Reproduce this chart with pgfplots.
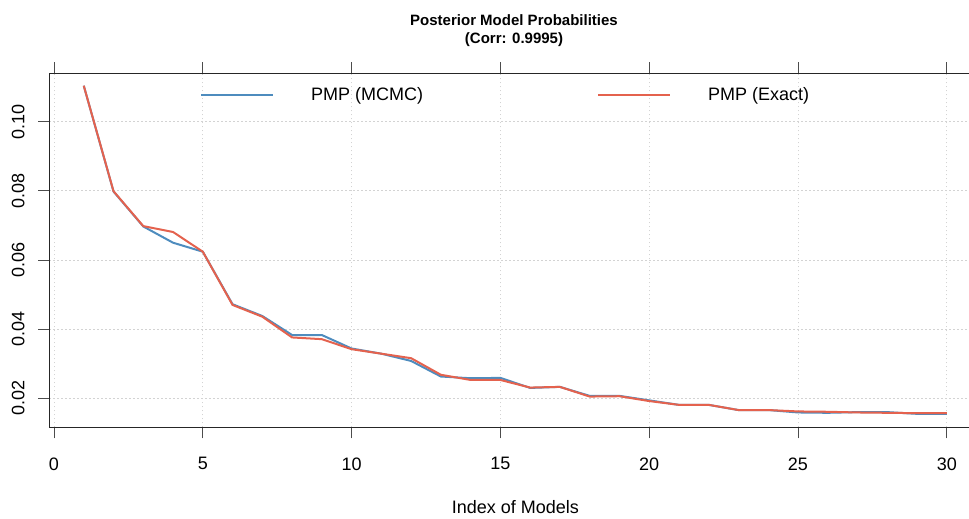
\documentclass[border=0pt]{standalone}
\usepackage{pgfplots}
\pgfplotsset{compat=1.18}
\usepackage{fontspec}
\setmainfont{Liberation Sans}
\definecolor{mcmc}{RGB}{78,140,190}
\definecolor{exact}{RGB}{228,98,78}
\definecolor{gridc}{RGB}{211,211,211}
\begin{document}
\begin{tikzpicture}
\useasboundingbox (0,0) rectangle (969bp,519bp);
\begin{axis}[
  at={(49.3bp,91.7bp)}, anchor=south west,
  scale only axis, width=932bp, height=354bp,
  xmin=-0.158, xmax=31.16, ymin=0.01161, ymax=0.1140,
  xtick={0,5,10,15,20,25,30},
  ytick={0.02,0.04,0.06,0.08,0.10},
  /pgf/number format/assume math mode=true,
  yticklabel style={/pgf/number format/fixed, /pgf/number format/fixed zerofill, /pgf/number format/precision=2, rotate=90, anchor=south, inner sep=0pt},
  scaled y ticks=false,
  xticklabel style={anchor=north, inner sep=0pt},
  yticklabel shift=13.5bp,
  xticklabel shift=19bp,
  tick label style={font=\fontsize{18bp}{20bp}\selectfont},
  tick align=outside,
  major tick length=11bp,
  every tick/.style={black!70, line width=0.9bp},
  axis line style={black!85, line width=1.1bp},
  grid=major,
  major grid style={gridc, line width=0.9bp, dash pattern=on 1.5bp off 2.5bp},
  xlabel={Index of Models},
  xlabel style={at={(axis description cs:0.5,0)}, anchor=center, yshift=-80bp, inner sep=0pt, font=\fontsize{18bp}{20bp}\selectfont},
  legend columns=2,
  legend image code/.code={\draw[#1] (0bp,0bp) -- (72bp,0bp);},
  legend style={draw=none, fill=none, inner sep=0pt, at={(axis description cs:0.1617,0.94)}, anchor=west,
    nodes={inner sep=0pt, anchor=west}, font=\fontsize{18bp}{20bp}\selectfont,
    /tikz/every odd column/.append style={column sep=37bp},
    /tikz/every even column/.append style={column sep=174bp}},
]
\addplot[mcmc, line width=2bp] table {
1 0.1104
2 0.0798
3 0.0697
4 0.0650
5 0.0624
6 0.0472
7 0.0438
8 0.0383
9 0.0383
10 0.0344
11 0.0329
12 0.0308
13 0.0263
14 0.0258
15 0.0259
16 0.0230
17 0.0233
18 0.0207
19 0.0207
20 0.0194
21 0.0181
22 0.0181
23 0.0166
24 0.0166
25 0.0159
26 0.0158
27 0.0160
28 0.0160
29 0.0155
30 0.0155
};
\addlegendentry{PMP (MCMC)}
\addplot[exact, line width=2bp] table {
1 0.1104
2 0.0799
3 0.0698
4 0.0681
5 0.0624
6 0.0470
7 0.0436
8 0.0376
9 0.0371
10 0.0342
11 0.0329
12 0.0316
13 0.0268
14 0.0253
15 0.0253
16 0.0231
17 0.0233
18 0.0205
19 0.0206
20 0.0192
21 0.0181
22 0.0181
23 0.0166
24 0.0166
25 0.0162
26 0.0161
27 0.0159
28 0.0158
29 0.0157
30 0.0157
};
\addlegendentry{PMP (Exact)}
\end{axis}
\node[align=center, font=\bfseries\fontsize{15bp}{18bp}\selectfont, anchor=center, inner sep=0pt] at (514bp,488bp) {Posterior Model Probabilities\\(Corr: 0.9995)};
\end{tikzpicture}
\end{document}
